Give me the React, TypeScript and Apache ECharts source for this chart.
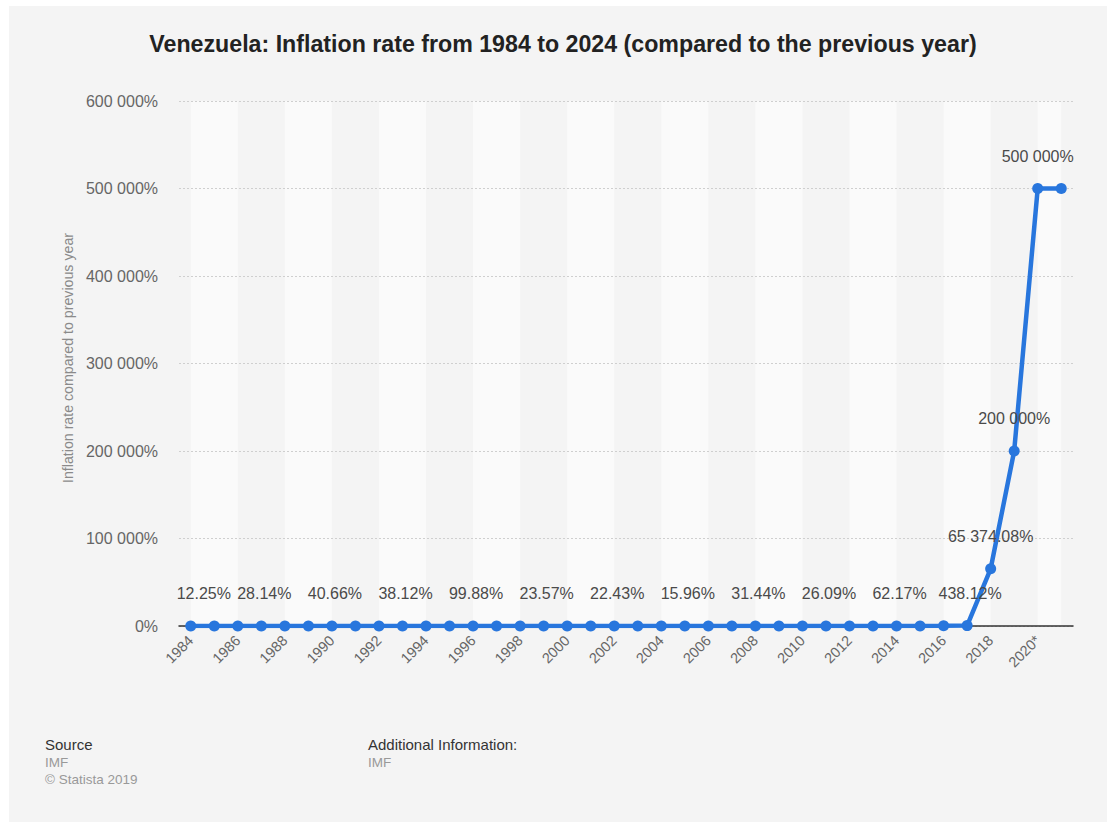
import React, { useEffect, useRef } from "react";
import * as echarts from "echarts";

const years = [
  "1984", "1985", "1986", "1987", "1988", "1989", "1990", "1991", "1992", "1993",
  "1994", "1995", "1996", "1997", "1998", "1999", "2000", "2001", "2002", "2003",
  "2004", "2005", "2006", "2007", "2008", "2009", "2010", "2011", "2012", "2013",
  "2014", "2015", "2016", "2017", "2018", "2019*", "2020*", "2021*",
];

const inflation = [
  12.25, 11.4, 11.5, 28.14, 29.5, 84.5, 40.66, 34.2, 31.4, 38.12,
  60.8, 59.9, 99.88, 50.0, 35.8, 23.57, 16.2, 12.5, 22.43, 31.1,
  21.7, 15.96, 13.7, 18.7, 31.44, 27.1, 28.19, 26.09, 21.07, 40.64,
  62.17, 121.74, 254.95, 438.12, 65374.08, 200000, 500000, 500000,
];

const labelledYears = [
  "1984", "1987", "1990", "1993", "1996", "1999", "2002", "2005", "2008",
  "2011", "2014", "2017", "2018", "2019*", "2020*",
];

const bandStarts = ["1984", "1988", "1992", "1996", "2000", "2004", "2008", "2012", "2016", "2020*"];
const bandEnds = ["1986", "1990", "1994", "1998", "2002", "2006", "2010", "2014", "2018", "2021*"];

const yTicks = { min: 0, max: 600000, interval: 100000 };

function group(n: number): string {
  const s = String(Math.floor(Math.abs(n)));
  return s.replace(/\B(?=(\d{3})+(?!\d))/g, " ");
}

function fmt(v: number): string {
  if (Number.isInteger(v)) return group(v) + "%";
  const fixed = v.toFixed(2);
  const dec = fixed.split(".")[1];
  return group(v) + "." + dec + "%";
}

export default function App() {
  const ref = useRef<HTMLDivElement>(null);
  useEffect(() => {
    if (!ref.current) return;
    const chart = echarts.init(ref.current, undefined, { renderer: "svg" });
    const font = "'Liberation Sans', Arial, Helvetica, sans-serif";
    const seriesData = inflation.map((v, i) => {
      const y = years[i];
      const show = labelledYears.includes(y);
      const item: any = { value: v };
      if (show) {
        item.label = {
          show: true,
          offset: i === 0 ? [13, 0] : v < 1000 ? [3, 0] : [0, 0],
        };
      }
      return item;
    });
    chart.setOption({
      animation: false,
      backgroundColor: "#ffffff",
      textStyle: { fontFamily: font },
      graphic: [
        {
          type: "rect",
          z: -10,
          silent: true,
          shape: { x: 9, y: 6, width: 1098, height: 816 },
          style: { fill: "#f4f4f4" },
        },
        {
          type: "text",
          x: 563,
          y: 44,
          style: {
            text: "Venezuela: Inflation rate from 1984 to 2024 (compared to the previous year)",
            fill: "#222",
            fontSize: 23.2,
            fontWeight: "bold",
            fontFamily: font,
            align: "center",
            verticalAlign: "middle",
          },
        },
        {
          type: "text",
          x: 68,
          y: 358,
          rotation: Math.PI / 2,
          style: {
            text: "Inflation rate compared to previous year",
            fill: "#8a8a8a",
            fontSize: 14.2,
            fontFamily: font,
            align: "center",
            verticalAlign: "middle",
          },
        },
        { type: "text", x: 45, y: 744, style: { text: "Source", fill: "#333", fontSize: 15, fontFamily: font, verticalAlign: "middle" } },
        { type: "text", x: 45, y: 762, style: { text: "IMF", fill: "#999", fontSize: 13.5, fontFamily: font, verticalAlign: "middle" } },
        { type: "text", x: 45, y: 779, style: { text: "© Statista 2019", fill: "#999", fontSize: 13.5, fontFamily: font, verticalAlign: "middle" } },
        { type: "text", x: 368, y: 744, style: { text: "Additional Information:", fill: "#333", fontSize: 15, fontFamily: font, verticalAlign: "middle" } },
        { type: "text", x: 368, y: 762, style: { text: "IMF", fill: "#999", fontSize: 13.5, fontFamily: font, verticalAlign: "middle" } },
      ],
      grid: { left: 179, right: 34, top: 101, bottom: 196, containLabel: false },
      xAxis: {
        type: "category",
        data: years,
        boundaryGap: true,
        z: 2,
        axisLine: { lineStyle: { color: "#333", width: 1.5 } },
        axisTick: { show: false },
        axisLabel: {
          interval: 1,
          rotate: 45,
          color: "#666",
          fontSize: 14.5,
          margin: 12,
          fontFamily: font,
        },
        splitLine: { show: false },
      },
      yAxis: {
        type: "value",
        min: yTicks.min,
        max: yTicks.max,
        interval: yTicks.interval,
        z: 2,
        axisLine: { show: false },
        axisTick: { show: false },
        axisLabel: {
          color: "#666",
          fontSize: 16,
          margin: 21,
          fontFamily: font,
          formatter: (v: number) => (v === 0 ? "0%" : group(v) + "%"),
        },
        splitLine: { lineStyle: { color: "#cfcfcf", type: [2, 2], width: 1 } },
      },
      series: [
        {
          type: "line",
          data: [],
          silent: true,
          z: 1,
          markArea: {
            silent: true,
            itemStyle: { color: "#fafafa" },
            label: { show: false },
            data: bandStarts.map((s, i) => [{ xAxis: s }, { xAxis: bandEnds[i] }]),
          },
        },
        {
          type: "line",
          data: seriesData,
          lineStyle: { color: "#2876dd", width: 4.5 },
          itemStyle: { color: "#2876dd" },
          symbol: "circle",
          symbolSize: 11,
          z: 3,
          label: {
            show: false,
            position: "top",
            distance: 19,
            color: "#4a4a4a",
            fontSize: 16,
            fontFamily: font,
            formatter: (p: any) => fmt(p.value),
          },
        },
      ],
    });
    return () => chart.dispose();
  }, []);
  return (
    <div
      ref={ref}
      style={{ position: "absolute", left: 0, top: 0, width: 1107, height: 822 }}
    />
  );
}
